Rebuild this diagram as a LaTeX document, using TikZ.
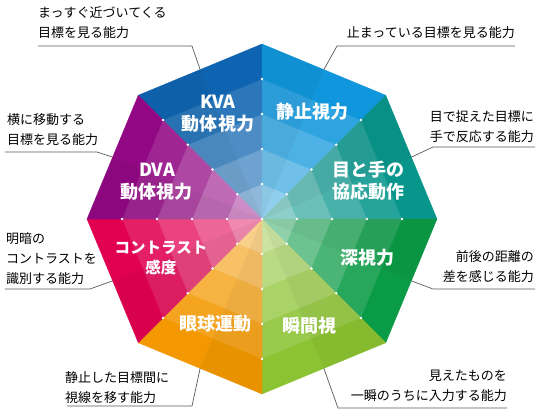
\documentclass[tikz,border=0pt]{standalone}
\usepackage{fontspec}
\setmainfont{Noto Sans CJK JP}
\usepackage{tikz}
\definecolor{kva}{HTML}{0E64B0}
\definecolor{still}{HTML}{1096DC}
\definecolor{eyehand}{HTML}{08968C}
\definecolor{depth}{HTML}{0A9B46}
\definecolor{instant}{HTML}{8CC332}
\definecolor{eyemove}{HTML}{F39800}
\definecolor{contrast}{HTML}{E20050}
\definecolor{dva}{HTML}{920783}
\tikzstyle{skill} = [text=white, font=\bfseries\fontsize{18}{22}\selectfont,
    align=center, inner sep=0pt]
\tikzstyle{note} = [font=\fontsize{13}{20}\selectfont, inner sep=0pt]
\tikzstyle{leader} = [draw, black!65, line width=0.7pt]

\begin{document}
\begin{tikzpicture}[x=1pt, y=1pt]
    \useasboundingbox (-262,-193) rectangle (278,219);

    % Sectors
    \foreach \a/\c in {90/kva, 45/still, 0/eyehand, -45/depth,
                       -90/instant, 225/eyemove, 180/contrast, 135/dva}{
        \foreach \k/\p in {1/46, 2/60, 3/74, 4/88, 5/100}{
            \pgfmathsetmacro{\ra}{(\k-1)*35}
            \pgfmathsetmacro{\rb}{\k*35}
            \pgfmathsetmacro{\ma}{\ra*0.92388}
            \pgfmathsetmacro{\mb}{\rb*0.92388}
            \pgfmathsetmacro{\b}{\a+22.5}
            \pgfmathsetmacro{\e}{\a+45}
            \filldraw[fill=\c!\p!white, draw=\c!\p!white, line width=0.3pt]
                (\a:\ra) -- (\a:\rb) -- (\b:\mb) -- (\b:\ma) -- cycle;
            \filldraw[fill=\c!\p!white!96!black, draw=\c!\p!white!96!black, line width=0.3pt]
                (\b:\ma) -- (\b:\mb) -- (\e:\rb) -- (\e:\ra) -- cycle;
        }
    }

    % Dots
    \fill[white] (0,0) circle (1.3);
    \foreach \a in {0,45,...,315}
        \foreach \r in {35,70,105,140}
            \fill[white] (\a:\r) circle (1.3);

    % Edge midpoints
    \foreach \n/\a in {1/112.5, 2/67.5, 3/22.5, 4/-22.5,
                       5/-67.5, 6/-112.5, 7/202.5, 8/157.5}
        \coordinate (m\n) at (\a:161.7);

    % Place nodes
    % Skills
    \node [skill] (kva) at (-44,105) {KVA\\動体視力};
    \node [skill] (still) at (50,107) {静止視力};
    \node [skill] (eyehand) at (106,38) {目と手の\\協応動作};
    \node [skill] (depth) at (105,-39) {深視力};
    \node [skill] (instant) at (47,-107) {瞬間視};
    \node [skill] (eyemove) at (-46,-105) {眼球運動};
    \node [skill, font=\bfseries\fontsize{15.5}{20}\selectfont] (contrast) at (-101,-39) {コントラスト\\感度};
    \node [skill] (dva) at (-105,37) {DVA\\動体視力};

    % Notes
    \node [note, anchor=west, align=left] (kvanote) at (-224,196) {まっすぐ近づいてくる\\目標を見る能力};
    \node [note, anchor=east, align=right] (stillnote) at (253,186) {止まっている目標を見る能力};
    \node [note, anchor=east, align=right] (eyehandnote) at (272,92) {目で捉えた目標に\\手で反応する能力};
    \node [note, anchor=east, align=right] (depthnote) at (272,-48) {前後の距離の\\差を感じる能力};
    \node [note, anchor=east, align=right] (instantnote) at (245,-167) {見えたものを\\一瞬のうちに入力する能力};
    \node [note, anchor=west, align=left] (eyemovenote) at (-197,-169) {静止した目標間に\\視線を移す能力};
    \node [note, anchor=west, align=left] (contrastnote) at (-256,-40) {明暗の\\コントラストを\\識別する能力};
    \node [note, anchor=west, align=left] (dvanote) at (-255,89) {横に移動する\\目標を見る能力};

    % Draw leaders
    \coordinate (kvabend) at (-70,173);      \coordinate (kvaend) at (-224,173);
    \coordinate (stillbend) at (75,173);     \coordinate (stillend) at (253,173);
    \coordinate (eyehandbend) at (171,72);   \coordinate (eyehandend) at (273,72);
    \coordinate (depthbend) at (171,-70);    \coordinate (depthend) at (273,-70);
    \coordinate (instantbend) at (76,-189);  \coordinate (instantend) at (245,-189);
    \coordinate (eyemovebend) at (-70,-187); \coordinate (eyemoveend) at (-195,-187);
    \coordinate (contrastbend) at (-172,-70); \coordinate (contrastend) at (-257,-70);
    \coordinate (dvabend) at (-165,67);      \coordinate (dvaend) at (-257,67);
    \path [leader] (m1) -- (kvabend) -- (kvaend);
    \path [leader] (m2) -- (stillbend) -- (stillend);
    \path [leader] (m3) -- (eyehandbend) -- (eyehandend);
    \path [leader] (m4) -- (depthbend) -- (depthend);
    \path [leader] (m5) -- (instantbend) -- (instantend);
    \path [leader] (m6) -- (eyemovebend) -- (eyemoveend);
    \path [leader] (m7) -- (contrastbend) -- (contrastend);
    \path [leader] (m8) -- (dvabend) -- (dvaend);

\end{tikzpicture}
\end{document}
